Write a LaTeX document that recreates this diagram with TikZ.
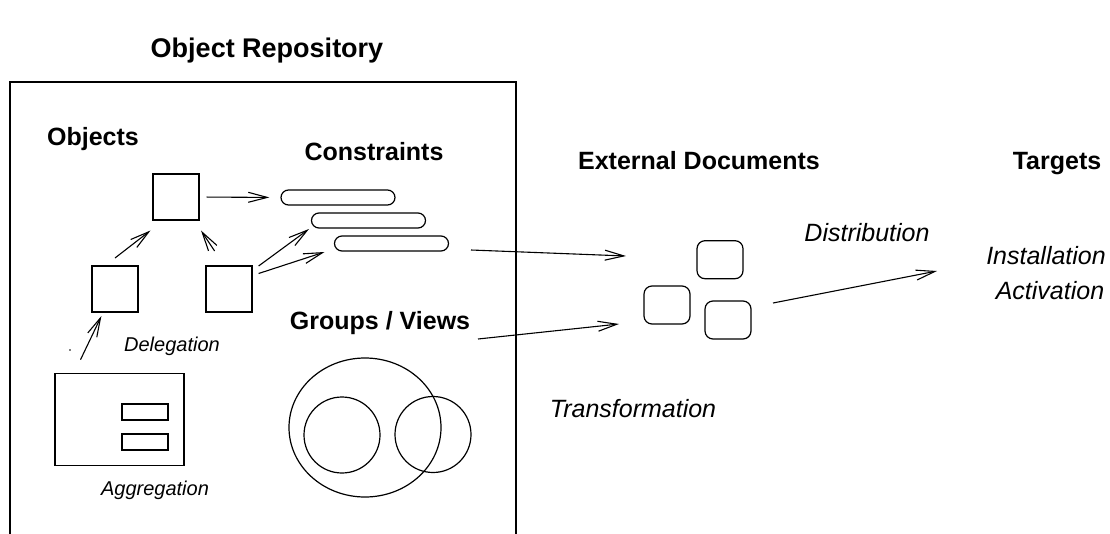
\documentclass[tikz,border=0pt]{standalone}
\usepackage{fontspec}
\setmainfont{Liberation Sans}
\usetikzlibrary{arrows.meta,shapes.geometric}
\begin{document}
\begin{tikzpicture}[x=1pt,y=-1pt,line width=1.2pt,
  heading/.style={font=\fontsize{25}{30}\selectfont\bfseries,inner sep=0,anchor=base},
  smalllab/.style={font=\fontsize{20}{24}\selectfont\itshape,inner sep=0,anchor=base},
  biglab/.style={font=\fontsize{25}{30}\selectfont\itshape,inner sep=0,anchor=base},
  objbox/.style={draw,minimum width=46pt,minimum height=46pt,inner sep=0},
  pill/.style={draw,rounded corners=7.5pt,minimum width=114pt,minimum height=15pt,inner sep=0},
  docbox/.style={draw,rounded corners=8pt,minimum width=46pt,minimum height=38pt,inner sep=0},
  plainbox/.style={draw,inner sep=0},
  link/.style={-{Straight Barb[length=19pt,width=10pt]},line width=1.1pt}]
\useasboundingbox (0,0) rectangle (1110,533);
% frame
\coordinate (fbl) at (10,540);
\coordinate (ftl) at (10,82);
\coordinate (ftr) at (516,82);
\coordinate (fbr) at (516,540);
\draw[line width=2pt] (fbl) -- (ftl) -- (ftr) -- (fbr);
% headings
\node[heading,font=\fontsize{27}{32}\selectfont\bfseries] (title) at (267,57) {Object Repository};
\node[heading] (hobj) at (93,145) {Objects};
\node[heading] (hcon) at (374,160) {Constraints};
\node[heading] (hgrp) at (380,329) {Groups / Views};
\node[heading] (hext) at (699,169) {External Documents};
\node[heading] (htgt) at (1057,169) {Targets};
% labels
\node[smalllab] (ldel) at (172,351) {Delegation};
\node[smalllab] (lagg) at (155,495) {Aggregation};
\node[biglab] (ltra) at (633,417) {Transformation};
\node[biglab] (ldis) at (867,241) {Distribution};
\node[biglab] (lins) at (1046,264) {Installation};
\node[biglab] (lact) at (1050,299) {Activation};
% objects
\node[objbox] (otop) at (176,197) {};
\node[objbox] (oleft) at (115,289) {};
\node[objbox] (oright) at (229,289) {};
\node[plainbox,minimum width=129pt,minimum height=92pt] (agg) at (119.5,419.5) {};
\node[plainbox,minimum width=46pt,minimum height=16pt] (agg1) at (145,412) {};
\node[plainbox,minimum width=46pt,minimum height=16pt] (agg2) at (145,442) {};
\fill (70,350) circle (0.8pt);
% constraints
\node[pill] (c1) at (338,197.5) {};
\node[pill] (c2) at (368.5,220.5) {};
\node[pill] (c3) at (391.5,243.5) {};
% groups
\node[draw,ellipse,minimum width=152pt,minimum height=139pt,inner sep=0] (gbig) at (365,427.5) {};
\node[draw,circle,minimum size=76pt,inner sep=0] (gl) at (342,435) {};
\node[draw,circle,minimum size=76pt,inner sep=0] (gr) at (433,434.5) {};
% external documents
\node[docbox] (d1) at (720,259.7) {};
\node[docbox] (d2) at (667,305) {};
\node[docbox] (d3) at (728,320) {};
% arrow end points
\coordinate (a2s) at (115,258);   \coordinate (a2e) at (150.5,230.5);
\coordinate (a3s) at (214.6,251); \coordinate (a3e) at (201,230.5);
\coordinate (a4s) at (258.6,266); \coordinate (a4e) at (309,229);
\coordinate (a5s) at (258.6,273.5); \coordinate (a5e) at (324.5,252);
\coordinate (a6s) at (80.5,359.7); \coordinate (a6e) at (101.4,316);
\coordinate (a7s) at (471,250);   \coordinate (a7e) at (626,256);
\coordinate (a8s) at (478,339);   \coordinate (a8e) at (619,324);
\coordinate (a9s) at (773,303);   \coordinate (a9e) at (937,271);
% arrows
\draw[link,shorten <=7pt,shorten >=11pt] (otop.east) -- (c1.west);
\draw[link] (a2s) -- (a2e);
\draw[link] (a3s) -- (a3e);
\draw[link] (a4s) -- (a4e);
\draw[link] (a5s) -- (a5e);
\draw[link] (a6s) -- (a6e);
\draw[link] (a7s) -- (a7e);
\draw[link] (a8s) -- (a8e);
\draw[link] (a9s) -- (a9e);
\end{tikzpicture}
\end{document}
